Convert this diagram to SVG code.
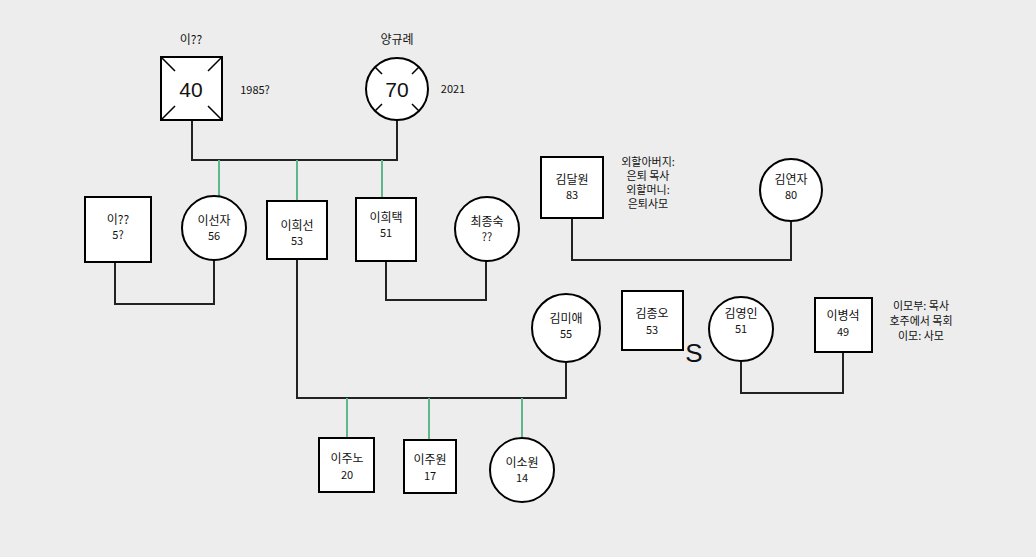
<svg xmlns="http://www.w3.org/2000/svg" width="1036" height="557" viewBox="0 0 1036 557">
<style>
.n{fill:#fff;stroke:#000;stroke-width:2}
.l{fill:none;stroke:#222;stroke-width:2}
.g{fill:none;stroke:#5cb88a;stroke-width:2}
text{font-family:"Noto Sans CJK KR","Noto Sans",sans-serif;font-size:12px;text-anchor:middle;fill:#111}
.s{font-size:11px}
.t{font-size:11px}
.b{font-family:"Liberation Sans",sans-serif;font-size:21px}
.S{font-family:"Liberation Sans",sans-serif;font-size:26px}
</style>
<rect width="1036" height="557" fill="#ededed"/>
<g id="connectors">
<path class="l" d="M192 120V160H397V120"/>
<path class="g" d="M219 160V197M297 160V201M382 160V198"/>
<path class="l" d="M115 262V304H214V260"/>
<path class="l" d="M386 261V300H486V261"/>
<path class="l" d="M572 218V260H791V221"/>
<path class="l" d="M741 361V393H843V352"/>
<path class="l" d="M297 259V398H566V362"/>
<path class="g" d="M347 398V438M429 398V440M522 398V438"/>
</g>
<g id="n1"><rect class="n" x="161" y="57" width="61" height="63"/>
<path stroke="#000" stroke-width="1.5" d="M162 58l13 13M221 58l-13 13M162 119l13-13M221 119l-13-13"/>
<text x="191" y="44">이??</text><text class="b" x="191" y="97">40</text><text class="s" x="255" y="94">1985?</text></g>
<g id="n2"><circle class="n" cx="397" cy="89" r="31"/>
<path stroke="#000" stroke-width="1.5" d="M375 67l7 7M419 67l-7 7M375 111l7-7M419 111l-7-7"/>
<text x="397" y="44">양규례</text><text class="b" x="397" y="97">70</text><text class="s" x="453" y="93">2021</text></g>
<g id="n3"><rect class="n" x="85" y="197" width="66" height="65"/><text x="118" y="224">이??</text><text class="s" x="118" y="239">5?</text></g>
<g id="n4"><circle class="n" cx="214" cy="228" r="32"/><text x="214" y="225">이선자</text><text class="s" x="214" y="240">56</text></g>
<g id="n5"><rect class="n" x="267" y="201" width="60" height="58"/><text x="297" y="230">이희선</text><text class="s" x="297" y="245">53</text></g>
<g id="n6"><rect class="n" x="356" y="198" width="60" height="63"/><text x="386" y="222">이희택</text><text class="s" x="386" y="237">51</text></g>
<g id="n7"><circle class="n" cx="487" cy="229" r="32"/><text x="487" y="226">최종숙</text><text class="s" x="487" y="241">??</text></g>
<g id="n8"><rect class="n" x="541" y="157" width="62" height="61"/><text x="572" y="184">김달원</text><text class="s" x="572" y="199">83</text>
<text class="t" x="648" y="166">외할아버지:</text><text class="t" x="648" y="180">은퇴 목사</text><text class="t" x="648" y="194">외할머니:</text><text class="t" x="648" y="208">은퇴사모</text></g>
<g id="n9"><circle class="n" cx="791" cy="190" r="31"/><text x="791" y="184">김연자</text><text class="s" x="791" y="199">80</text></g>
<g id="n10"><circle class="n" cx="566" cy="328" r="34"/><text x="566" y="323">김미애</text><text class="s" x="566" y="338">55</text></g>
<g id="n11"><rect class="n" x="622" y="291" width="61" height="59"/><text x="652" y="318">김종오</text><text class="s" x="652" y="334">53</text>
<text class="S" x="694" y="362">S</text></g>
<g id="n12"><circle class="n" cx="741" cy="329" r="32"/><text x="741" y="318">김영인</text><text class="s" x="741" y="333">51</text></g>
<g id="n13"><rect class="n" x="815" y="298" width="57" height="54"/><text x="843" y="320">이병석</text><text class="s" x="843" y="336">49</text>
<text class="t" x="921" y="310">이모부:  목사</text><text class="t" x="921" y="325">호주에서  목회</text><text class="t" x="921" y="340">이모:  사모</text></g>
<g id="n14"><rect class="n" x="319" y="438" width="55" height="54"/><text x="347" y="463">이주노</text><text class="s" x="347" y="479">20</text></g>
<g id="n15"><rect class="n" x="404" y="440" width="52" height="53"/><text x="430" y="464">이주원</text><text class="s" x="430" y="480">17</text></g>
<g id="n16"><circle class="n" cx="522" cy="470" r="32"/><text x="522" y="467">이소원</text><text class="s" x="522" y="482">14</text></g>
</svg>
